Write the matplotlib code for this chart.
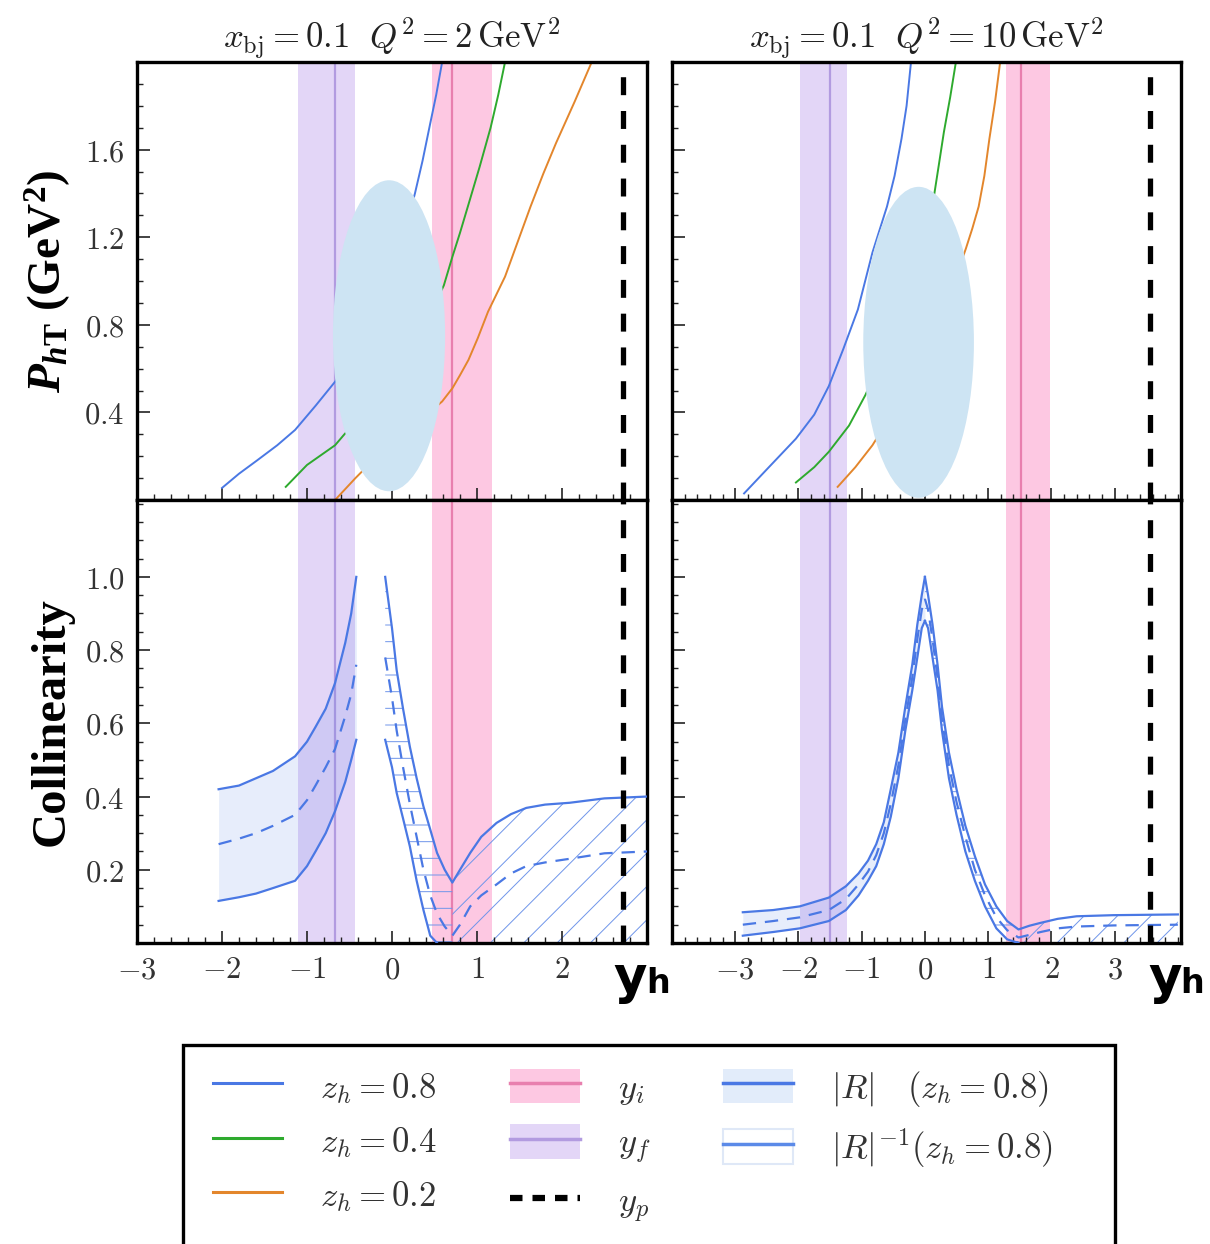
import matplotlib
matplotlib.use("Agg")
import matplotlib.pyplot as plt
from matplotlib.patches import Ellipse, Rectangle, Patch
from matplotlib.lines import Line2D
from matplotlib.ticker import FixedLocator, MultipleLocator
import matplotlib.transforms as mtransforms
import numpy as np

plt.rcParams['mathtext.fontset'] = 'cm'
plt.rcParams['mathtext.rm'] = 'Liberation Serif:bold'
plt.rcParams['mathtext.it'] = 'Liberation Serif:bold:italic'
plt.rcParams['mathtext.bf'] = 'Liberation Serif:bold'
plt.rcParams['hatch.linewidth'] = 0.7

# ---------------- data ----------------
titles = [r'$x_{\rm bj} = 0.1\ \ Q^2 = 2\,{\rm GeV}^2$',
          r'$x_{\rm bj} = 0.1\ \ Q^2 = 10\,{\rm GeV}^2$']

# rapidity markers: y_f (center, low, high), y_i (center, low, high), y_p
yf_L = [-0.67, -1.11, -0.44]
yi_L = [0.71, 0.47, 1.18]
yp_L = 2.72
yf_R = [-1.50, -1.97, -1.23]
yi_R = [1.52, 1.28, 1.98]
yp_R = 3.56

# top-left: P_hT vs y_h
z08_L_x = [-2.0, -1.8, -1.59, -1.35, -1.14, -0.9, -0.67, -0.4, -0.1, 0.1, 0.27, 0.36, 0.45, 0.52, 0.59]
z08_L_y = [0.055, 0.12, 0.18, 0.25, 0.32, 0.43, 0.54, 0.70, 0.92, 1.15, 1.40, 1.55, 1.72, 1.85, 2.0]
z04_L_x = [-1.25, -1.0, -0.67, -0.56, -0.2, 0.2, 0.45, 0.61, 0.71, 0.8, 0.9, 1.03, 1.16, 1.25, 1.33]
z04_L_y = [0.06, 0.16, 0.25, 0.30, 0.45, 0.70, 0.85, 0.98, 1.11, 1.22, 1.35, 1.52, 1.70, 1.85, 2.0]
z02_L_x = [-0.67, -0.43, -0.2, 0.1, 0.35, 0.59, 0.71, 0.8, 0.9, 1.01, 1.13, 1.23, 1.33, 1.48, 1.63, 1.78, 1.93, 2.15, 2.35]
z02_L_y = [0.0, 0.10, 0.19, 0.29, 0.37, 0.45, 0.51, 0.57, 0.64, 0.74, 0.86, 0.94, 1.02, 1.18, 1.34, 1.49, 1.63, 1.82, 2.0]

# top-right
z08_R_x = [-2.86, -2.5, -2.04, -1.75, -1.52, -1.29, -1.06, -0.83, -0.6, -0.48, -0.37, -0.29, -0.22]
z08_R_y = [0.03, 0.14, 0.28, 0.39, 0.52, 0.69, 0.87, 1.13, 1.34, 1.48, 1.65, 1.80, 2.0]
z04_R_x = [-2.04, -1.75, -1.52, -1.2, -0.94, -0.6, -0.3, 0.0, 0.15, 0.22, 0.30, 0.40, 0.49]
z04_R_y = [0.08, 0.15, 0.22, 0.34, 0.48, 0.70, 0.95, 1.20, 1.40, 1.53, 1.68, 1.84, 2.0]
z02_R_x = [-1.38, -1.1, -0.83, -0.4, 0.0, 0.35, 0.65, 0.75, 0.85, 0.94, 1.02, 1.11, 1.19]
z02_R_y = [0.06, 0.15, 0.25, 0.45, 0.68, 0.90, 1.15, 1.24, 1.34, 1.48, 1.65, 1.82, 2.0]

# bottom-left: collinearity |R| (z_h = 0.8)
R_L_x = [-2.04, -1.8, -1.6, -1.4, -1.14, -1.0, -0.9, -0.78, -0.67, -0.55, -0.48, -0.42]
R_L_hi = [0.42, 0.43, 0.45, 0.47, 0.51, 0.55, 0.59, 0.64, 0.71, 0.82, 0.90, 1.0]
R_L_mid = [0.27, 0.285, 0.30, 0.32, 0.35, 0.39, 0.43, 0.48, 0.53, 0.62, 0.68, 0.76]
R_L_lo = [0.115, 0.125, 0.135, 0.15, 0.17, 0.21, 0.25, 0.30, 0.36, 0.44, 0.50, 0.555]
# |R|^-1
Ri_L_x = [-0.08, 0.0, 0.055, 0.13, 0.21, 0.29, 0.37, 0.45, 0.53, 0.62, 0.71,
          0.8, 0.92, 1.05, 1.23, 1.4, 1.58, 1.8, 2.09, 2.5, 3.0]
Ri_L_hi = [1.0, 0.86, 0.745, 0.64, 0.536, 0.45, 0.373, 0.31, 0.246, 0.20, 0.165,
           0.20, 0.246, 0.29, 0.328, 0.352, 0.369, 0.378, 0.383, 0.395, 0.40]
Ri_L_mid = [0.78, 0.67, 0.58, 0.48, 0.38, 0.29, 0.20, 0.13, 0.08, 0.045, 0.02,
            0.05, 0.10, 0.13, 0.16, 0.19, 0.21, 0.22, 0.23, 0.245, 0.25]
Ri_L_lo = [0.555, 0.48, 0.41, 0.34, 0.264, 0.17, 0.09, 0.02, 0.0, 0.0, 0.0,
           0.0, 0.0, 0.0, 0.0, 0.0, 0.0, 0.0, 0.0, 0.0, 0.0]

# bottom-right
R_R_x = [-2.88, -2.4, -1.98, -1.52, -1.25, -1.05, -0.9, -0.77, -0.65, -0.54, -0.42, -0.31, -0.2, -0.12, -0.05, 0.0]
R_R_hi = [0.084, 0.09, 0.10, 0.124, 0.155, 0.19, 0.225, 0.27, 0.33, 0.42, 0.52, 0.645, 0.76, 0.87, 0.95, 1.0]
R_R_mid = [0.05, 0.06, 0.07, 0.09, 0.12, 0.16, 0.195, 0.24, 0.30, 0.38, 0.485, 0.61, 0.725, 0.83, 0.91, 0.94]
R_R_lo = [0.02, 0.03, 0.04, 0.06, 0.09, 0.13, 0.17, 0.21, 0.27, 0.345, 0.45, 0.58, 0.69, 0.78, 0.86, 0.88]
Ri_R_x = [0.0, 0.05, 0.12, 0.2, 0.27, 0.38, 0.5, 0.64, 0.79, 0.95, 1.13, 1.3, 1.48, 1.65, 1.83, 2.1, 2.4, 2.98, 4.0]
Ri_R_hi = [1.0, 0.95, 0.87, 0.76, 0.645, 0.52, 0.42, 0.32, 0.237, 0.16, 0.10, 0.06, 0.037, 0.047, 0.055, 0.066, 0.073, 0.076, 0.078]
Ri_R_mid = [0.94, 0.91, 0.83, 0.725, 0.61, 0.485, 0.385, 0.29, 0.20, 0.13, 0.07, 0.035, 0.015, 0.022, 0.03, 0.04, 0.045, 0.048, 0.05]
Ri_R_lo = [0.88, 0.86, 0.78, 0.69, 0.58, 0.45, 0.35, 0.25, 0.17, 0.10, 0.04, 0.01, 0.0, 0.0, 0.0, 0.0, 0.0, 0.0, 0.0]

xticks_L = [-3, -2, -1, 0, 1, 2]
xticks_R = [-3, -2, -1, 0, 1, 2, 3]
yticks_top = [0.4, 0.8, 1.2, 1.6]
yticks_bot = [0.2, 0.4, 0.6, 0.8, 1.0]

legend_labels = [r'$z_h = 0.8$', r'$z_h = 0.4$', r'$z_h = 0.2$',
                 r'$y_i$', r'$y_f$', r'$y_p$',
                 r'$|R|\quad (z_h = 0.8)$', r'$|R|^{-1}(z_h = 0.8)$']

# ---------------- style ----------------
BLUE = '#4a78e4'
GREEN = '#2eaa2e'
ORANGE = '#e3862c'
PURP_BAND = '#e3d6f7'
PURP_LINE = '#b29be0'
PINK_BAND = '#fdc8e2'
PINK_LINE = '#e87fae'
HATCH_C = '#6f95ea'
TXT = '#333333'

W, H = 1210, 1244
fig = plt.figure(figsize=(W / 100, H / 100), dpi=100)

def ax_at(x0, x1, y0, y1):
    return fig.add_axes([x0 / W, 1 - y1 / H, (x1 - x0) / W, (y1 - y0) / H])

axTL = ax_at(137, 647, 62, 500)
axBL = ax_at(137, 647, 500, 943)
axTR = ax_at(672, 1181, 62, 500)
axBR = ax_at(672, 1181, 500, 943)

def fmt(v):
    s = ('%g' % v) if isinstance(v, int) else ('%.1f' % v)
    return '$' + s + '$'

def style(ax, xlim, ylim, xt, yt, yminor, showx, showy):
    ax.set_xlim(*xlim)
    ax.set_ylim(*ylim)
    ax.xaxis.set_major_locator(FixedLocator(xt))
    ax.xaxis.set_minor_locator(MultipleLocator(0.2))
    ax.yaxis.set_major_locator(FixedLocator(yt))
    ax.yaxis.set_minor_locator(MultipleLocator(yminor))
    ax.set_xticklabels([fmt(v) for v in xt])
    ax.set_yticklabels([fmt(v) for v in yt])
    ax.tick_params(which='both', direction='in', top=False, right=False,
                   labelbottom=showx, labelleft=showy, labelsize=22,
                   labelcolor=TXT, color='#222222')
    ax.tick_params(which='major', length=9, width=1.2, pad=9)
    ax.tick_params(which='minor', length=4.5, width=1.0)
    for sp in ax.spines.values():
        sp.set_linewidth(2.4)
        sp.set_color('black')

def markers(ax, yf, yi, yp):
    ax.axvspan(yf[1], yf[2], color=PURP_BAND, lw=0, zorder=0)
    ax.axvline(yf[0], color=PURP_LINE, lw=1.6, zorder=0.5)
    ax.axvspan(yi[1], yi[2], color=PINK_BAND, lw=0, zorder=0)
    ax.axvline(yi[0], color=PINK_LINE, lw=1.6, zorder=0.5)
    ax.axvline(yp, color='black', lw=3.8, dashes=(3.4, 3.0), zorder=5)

def top_panel(ax, curves, yf, yi, yp, xlim, xt, showy, ell):
    markers(ax, yf, yi, yp)
    for (xs, ys, c) in curves:
        ax.plot(xs, ys, color=c, lw=1.4, zorder=2)
    style(ax, xlim, (0, 2.0), xt, yticks_top, 0.1, False, showy)
    ax.add_patch(Ellipse(ell[0], ell[1], ell[2], facecolor='#cde4f3',
                         edgecolor='none', zorder=10, clip_on=False))

def visible_lower(lo):
    keep = np.r_[True, lo[:-1] > 0]
    return np.where(keep, lo, np.nan)

def bottom_panel(ax, R, Ri, yf, yi, yp, xlim, xt, showy):
    markers(ax, yf, yi, yp)
    x, hi, mid, lo = [np.asarray(a, dtype=float) for a in R]
    ax.fill_between(x, lo, hi, color=BLUE, alpha=0.13, lw=0, zorder=1)
    ax.plot(x, hi, color=BLUE, lw=1.6, zorder=3)
    ax.plot(x, lo, color=BLUE, lw=1.6, zorder=3)
    ax.plot(x, mid, color=BLUE, lw=1.6, dashes=(6, 4), zorder=3)
    x, hi, mid, lo = [np.asarray(a, dtype=float) for a in Ri]
    left = x <= yi[0]
    right = x >= yi[0]
    ax.fill_between(x, lo, hi, where=left, facecolor='none', edgecolor=HATCH_C,
                    hatch='-', lw=0, zorder=1, interpolate=True)
    ax.fill_between(x, lo, hi, where=right, facecolor='none', edgecolor=HATCH_C,
                    hatch='/', lw=0, zorder=1, interpolate=True)
    ax.plot(x, hi, color=BLUE, lw=1.6, zorder=3)
    ax.plot(x, visible_lower(lo), color=BLUE, lw=1.6, zorder=3)
    ax.plot(x, mid, color=BLUE, lw=1.6, dashes=(6, 4), zorder=3)
    style(ax, xlim, (0, 1.21), xt, yticks_bot, 0.05, True, showy)
    # x-axis label "y_h"
    ax.text(0.935, -0.113, 'y', transform=ax.transAxes, fontsize=37,
            fontweight='bold', family='DejaVu Sans', ha='left',
            va='baseline', clip_on=False, color='black')
    tr = mtransforms.offset_copy(ax.transAxes, fig=fig, x=23, y=0, units='points')
    ax.text(0.935, -0.113, 'h', transform=tr, fontsize=24, fontweight='bold',
            family='DejaVu Sans', ha='left', va='baseline', clip_on=False,
            color='black')

top_panel(axTL, [(z08_L_x, z08_L_y, BLUE), (z04_L_x, z04_L_y, GREEN),
                 (z02_L_x, z02_L_y, ORANGE)],
          yf_L, yi_L, yp_L, (-3, 3), xticks_L, True,
          ((-0.035, 0.75), 1.32, 1.42))
top_panel(axTR, [(z08_R_x, z08_R_y, BLUE), (z04_R_x, z04_R_y, GREEN),
                 (z02_R_x, z02_R_y, ORANGE)],
          yf_R, yi_R, yp_R, (-4, 4.05), xticks_R, False,
          ((-0.10, 0.72), 1.75, 1.42))
bottom_panel(axBL, (R_L_x, R_L_hi, R_L_mid, R_L_lo),
             (Ri_L_x, Ri_L_hi, Ri_L_mid, Ri_L_lo),
             yf_L, yi_L, yp_L, (-3, 3), xticks_L, True)
bottom_panel(axBR, (R_R_x, R_R_hi, R_R_mid, R_R_lo),
             (Ri_R_x, Ri_R_hi, Ri_R_mid, Ri_R_lo),
             yf_R, yi_R, yp_R, (-4, 4.05), xticks_R, False)

axTL.set_title(titles[0], fontsize=25, pad=10, color='#222222')
axTR.set_title(titles[1], fontsize=25, pad=10, color='#222222')

axTL.set_ylabel(r'$P_{h\mathrm{T}}$ (GeV$^2$)', fontsize=34, fontweight='bold',
                family='Liberation Serif', math_fontfamily='custom', labelpad=8)
axBL.set_ylabel('Collinearity', fontsize=35, fontweight='bold',
                family='Liberation Serif', labelpad=8)

# ---------------- legend ----------------
handles = [
    Line2D([], [], color=BLUE, lw=2.2),
    Line2D([], [], color=GREEN, lw=2.2),
    Line2D([], [], color=ORANGE, lw=2.2),
    (Patch(facecolor=PINK_BAND, edgecolor='none'), Line2D([], [], color=PINK_LINE, lw=2.5)),
    (Patch(facecolor=PURP_BAND, edgecolor='none'), Line2D([], [], color=PURP_LINE, lw=2.5)),
    Line2D([], [], color='black', lw=4.5, dashes=(2.0, 1.6)),
    (Patch(facecolor='#e2ecfa', edgecolor='none'), Line2D([], [], color=BLUE, lw=2.5)),
    (Patch(facecolor='white', edgecolor='#dfe8f7', lw=1.5), Line2D([], [], color='#5b8ae8', lw=2.5)),
]
leg = fig.legend(handles, legend_labels, ncol=3, loc='upper left',
                 bbox_to_anchor=(192 / W, 1 - 1048 / H), frameon=False,
                 fontsize=25, handlelength=2.0, handleheight=1.15,
                 handletextpad=1.1, columnspacing=2.1, labelspacing=0.5,
                 borderpad=0.6, borderaxespad=0)
for t in leg.get_texts():
    t.set_color(TXT)

fig.add_artist(Rectangle((183 / W, -0.05), (1115 - 183) / W, 1 - 1045 / H + 0.05,
                         transform=fig.transFigure, fill=False, lw=2.4,
                         edgecolor='black', clip_on=False))

fig.savefig('out.png', dpi=100)
